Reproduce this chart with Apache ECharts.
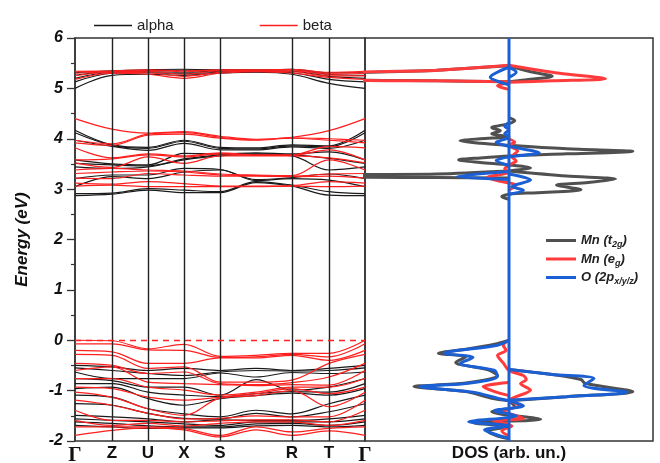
<!DOCTYPE html>
<html>
<head>
<meta charset="utf-8">
<script src="https://cdn.jsdelivr.net/npm/echarts@6/dist/echarts.min.js"></script>
<style>
html,body{margin:0;padding:0;background:#fff;}
#main{width:660px;height:463px;}
</style>
</head>
<body>
<div id="main"></div>
<script>
// high symmetry points along the k path
var kNames = ['Γ', 'Z', 'U', 'X', 'S', 'R', 'T', 'Γ'];
var kTicks = [0, 37, 73, 109, 145, 217, 254, 290];
// sample points: Γ Z U X S (S-R mid) R T Γ
var kPath = [0, 37, 73, 109, 145, 181, 217, 254, 290];

// band energies (eV), one row per k sample, sorted bands in each row
var alphaVal = [
	[-0.50, -0.55, -0.63, -0.76, -0.86, -0.96, -1.09, -1.26, -1.49, -1.56, -1.62, -1.69],
	[-0.53, -0.60, -0.76, -0.80, -0.86, -0.93, -1.13, -1.29, -1.52, -1.59, -1.65, -1.72],
	[-0.60, -0.66, -0.76, -0.93, -1.03, -1.16, -1.36, -1.45, -1.56, -1.62, -1.70, -1.75],
	[-0.56, -0.70, -0.76, -0.93, -1.09, -1.29, -1.46, -1.55, -1.62, -1.66, -1.72, -1.74],
	[-0.60, -0.63, -0.65, -1.09, -1.12, -1.16, -1.52, -1.56, -1.58, -1.69, -1.72, -1.74],
	[-0.56, -0.60, -0.73, -0.78, -1.06, -1.10, -1.39, -1.45, -1.59, -1.62, -1.66, -1.70],
	[-0.60, -0.61, -0.64, -0.99, -1.02, -1.05, -1.46, -1.52, -1.59, -1.62, -1.65, -1.69],
	[-0.56, -0.60, -0.66, -0.93, -1.03, -1.09, -1.26, -1.42, -1.56, -1.62, -1.69, -1.72],
	[-0.50, -0.55, -0.63, -0.76, -0.86, -0.96, -1.09, -1.26, -1.49, -1.56, -1.62, -1.69]
];
var alphaMid = [
	[2.87, 2.91, 3.05, 3.21, 3.44, 3.51, 3.58, 3.97, 4.12, 4.17],
	[2.90, 2.92, 3.25, 3.28, 3.41, 3.48, 3.50, 3.85, 3.87, 3.88],
	[2.98, 3.01, 3.21, 3.28, 3.44, 3.46, 3.48, 3.77, 3.81, 3.83],
	[2.93, 2.98, 3.34, 3.41, 3.58, 3.60, 3.71, 3.91, 3.95, 3.97],
	[2.93, 2.95, 3.38, 3.39, 3.66, 3.68, 3.70, 3.78, 3.81, 3.83],
	[3.13, 3.15, 3.17, 3.19, 3.69, 3.70, 3.72, 3.78, 3.80, 3.82],
	[3.06, 3.08, 3.21, 3.23, 3.66, 3.68, 3.70, 3.84, 3.86, 3.88],
	[2.88, 2.95, 3.18, 3.30, 3.38, 3.61, 3.74, 3.81, 3.84, 3.86],
	[2.87, 2.91, 3.05, 3.21, 3.44, 3.51, 3.58, 3.97, 4.12, 4.17]
];
var alphaUp = [
	[5.00, 5.13, 5.20, 5.26, 5.31],
	[5.26, 5.30, 5.32, 5.34, 5.35],
	[5.28, 5.31, 5.33, 5.35, 5.37],
	[5.26, 5.29, 5.32, 5.36, 5.38],
	[5.30, 5.32, 5.34, 5.36, 5.37],
	[5.32, 5.33, 5.35, 5.36, 5.37],
	[5.28, 5.31, 5.34, 5.37, 5.38],
	[5.10, 5.18, 5.24, 5.28, 5.31],
	[5.00, 5.13, 5.20, 5.26, 5.31]
];
var betaVal = [
	[0.00, -0.07, -0.20, -0.28, -0.46, -0.60, -0.76, -0.93, -1.03, -1.19, -1.39, -1.59, -1.72, -1.89],
	[-0.01, -0.07, -0.23, -0.30, -0.50, -0.53, -0.76, -0.96, -1.13, -1.29, -1.59, -1.69, -1.72, -1.79],
	[-0.17, -0.19, -0.46, -0.56, -0.66, -0.83, -0.93, -1.13, -1.36, -1.45, -1.59, -1.65, -1.72, -1.74],
	[-0.08, -0.20, -0.46, -0.53, -0.63, -0.86, -0.99, -1.19, -1.49, -1.56, -1.62, -1.70, -1.75, -1.78],
	[-0.32, -0.34, -0.35, -0.83, -0.86, -0.88, -1.09, -1.13, -1.15, -1.55, -1.60, -1.65, -1.89, -1.92],
	[-0.30, -0.33, -0.35, -0.83, -0.88, -0.90, -1.03, -1.06, -1.10, -1.50, -1.58, -1.62, -1.72, -1.78],
	[-0.26, -0.28, -0.30, -0.79, -0.84, -0.88, -0.93, -0.96, -1.00, -1.52, -1.58, -1.62, -1.82, -1.89],
	[-0.26, -0.33, -0.40, -0.46, -0.73, -0.89, -0.93, -1.06, -1.32, -1.52, -1.62, -1.69, -1.75, -1.80],
	[0.00, -0.07, -0.20, -0.28, -0.46, -0.60, -0.76, -0.93, -1.03, -1.19, -1.39, -1.59, -1.72, -1.89]
];
var betaMid = [
	[3.06, 3.12, 3.22, 3.31, 3.38, 3.52, 3.58, 3.82, 3.92, 3.97, 4.40],
	[3.08, 3.10, 3.21, 3.34, 3.41, 3.43, 3.60, 3.62, 3.87, 3.90, 4.19],
	[3.05, 3.15, 3.31, 3.36, 3.38, 3.64, 3.68, 3.70, 4.07, 4.09, 4.11],
	[3.05, 3.11, 3.28, 3.34, 3.36, 3.51, 3.64, 3.66, 4.09, 4.12, 4.14],
	[3.05, 3.06, 3.26, 3.28, 3.30, 3.66, 3.70, 3.72, 4.01, 4.03, 4.05],
	[3.05, 3.06, 3.26, 3.27, 3.28, 3.66, 3.67, 3.68, 3.97, 3.98, 3.99],
	[3.06, 3.07, 3.25, 3.26, 3.27, 3.66, 3.67, 3.68, 4.01, 4.02, 4.03],
	[3.05, 3.15, 3.26, 3.30, 3.58, 3.62, 3.78, 3.85, 3.97, 4.00, 4.16],
	[3.06, 3.12, 3.22, 3.31, 3.38, 3.52, 3.58, 3.82, 3.92, 3.97, 4.40]
];
var betaUp = [
	[5.18, 5.25, 5.30, 5.33, 5.34],
	[5.30, 5.32, 5.33, 5.34, 5.35],
	[5.28, 5.31, 5.34, 5.36, 5.37],
	[5.20, 5.24, 5.28, 5.33, 5.35],
	[5.30, 5.32, 5.35, 5.36, 5.37],
	[5.33, 5.34, 5.35, 5.36, 5.37],
	[5.30, 5.33, 5.35, 5.37, 5.38],
	[5.22, 5.25, 5.28, 5.30, 5.32],
	[5.18, 5.25, 5.30, 5.33, 5.34]
];

// projected DOS, pieces of [dos, energy]; each inner list is one stroke
var dosT2g = [
	[[0, 5.45], [-0.5, 5.36], [-1.1, 5.28], [-1.1, 5.18], [-0.5, 5.15], [0, 5.13]],
	[[0, 5.45], [0.15, 5.33], [0.30, 5.24], [0.15, 5.18], [0, 5.13]],
	[[0, 4.42], [0.04, 4.36], [0, 4.30], [-0.12, 4.22], [-0.06, 4.16], [-0.12, 4.10], [0, 4.04], [-0.2, 4.00], [-0.34, 3.96], [-0.2, 3.91], [0, 3.87], [0.4, 3.80], [0.86, 3.75], [0.4, 3.70], [0, 3.66], [-0.2, 3.62], [-0.35, 3.58], [-0.2, 3.53], [0, 3.48], [0.15, 3.42], [0, 3.36]],
	[[0, 3.36], [-0.5, 3.30], [-1.1, 3.28], [-1.1, 3.24], [-0.5, 3.23], [0, 3.22]],
	[[0, 3.36], [0.4, 3.26], [0.74, 3.20], [0.55, 3.13], [0.33, 3.08], [0.5, 2.99], [0.2, 2.93], [0, 2.90], [-0.05, 2.85], [0, 2.80]],
	[[0, 0.0], [-0.1, -0.08], [-0.3, -0.18], [-0.49, -0.26], [-0.3, -0.33], [-0.37, -0.44], [-0.15, -0.58], [-0.08, -0.70], [-0.3, -0.85], [-0.66, -0.92], [-0.3, -1.02], [-0.12, -1.15], [0, -1.2]],
	[[0, -0.58], [0.3, -0.68], [0.5, -0.78], [0.53, -0.86], [0.86, -1.02], [0.4, -1.12], [0, -1.2]],
	[[0, -1.2], [0.04, -1.32], [-0.12, -1.42], [0.22, -1.57], [-0.25, -1.64], [0, -1.72], [-0.15, -1.80], [-0.08, -1.90], [0, -1.95]]
];
var dosEg = [
	[[0, 5.46], [-0.5, 5.36], [-1.1, 5.29], [-1.1, 5.17], [-0.5, 5.15], [0, 5.13]],
	[[0, 5.46], [0.35, 5.30], [0.67, 5.19], [0.3, 5.15], [0, 5.12]],
	[[0, 5.12], [-0.08, 5.05], [0, 4.98]],
	[[0, 4.00], [0.04, 3.93], [0, 3.87], [0.06, 3.76], [0.02, 3.64], [0.05, 3.56], [0, 3.48], [-0.03, 3.40], [0, 3.34], [-0.15, 3.23], [-0.05, 3.15], [0.05, 3.08], [0, 2.98]],
	[[0, 0.0], [-0.04, -0.10], [-0.02, -0.20], [-0.08, -0.30], [-0.04, -0.45], [0, -0.60], [0.10, -0.70], [0.12, -0.78], [0.08, -0.86], [0.15, -0.99], [0.05, -1.12], [0, -1.18]],
	[[0, -0.84], [-0.18, -0.92], [-0.1, -1.02], [0, -1.10]],
	[[0, -1.20], [0.07, -1.30], [-0.04, -1.40], [0.10, -1.55], [-0.11, -1.60], [0.02, -1.70], [-0.05, -1.80], [0, -1.90]]
];
var dosO2p = [
	[[0, 6], [0, -2]],
	[[0, 5.42], [-0.13, 5.22], [0, 5.07]],
	[[0, 5.42], [0.05, 5.32], [0, 5.22]],
	[[0, 4.32], [-0.03, 4.25], [0, 4.18], [-0.03, 4.10], [0, 4.03], [-0.09, 3.93], [0, 3.85], [0.21, 3.72], [0, 3.64], [-0.09, 3.57], [0, 3.47]],
	[[0, 3.35], [-0.36, 3.25], [0, 3.19]],
	[[0, 3.30], [0.15, 3.18], [0.02, 3.05], [0.1, 2.98], [0, 2.90]],
	[[0, 0.0], [-0.08, -0.10], [-0.45, -0.26], [-0.25, -0.34], [-0.34, -0.46], [-0.1, -0.60], [-0.08, -0.72], [-0.3, -0.86], [-0.62, -0.92], [-0.25, -1.03], [-0.08, -1.15], [0, -1.2]],
	[[0, -0.58], [0.3, -0.68], [0.59, -0.76], [0.52, -0.90], [0.82, -1.03], [0.4, -1.12], [0, -1.19]],
	[[0, -1.2], [0.1, -1.30], [-0.1, -1.40], [0.05, -1.50], [-0.28, -1.62], [0, -1.70], [-0.17, -1.78], [-0.06, -1.90], [0, -1.95]]
];

var chart = echarts.init(document.getElementById('main'));

function bandSeries(name, color, groups, z){
	var out = [];
	for(var g = 0; g < groups.length; g++){
		var rows = groups[g];
		for(var j = 0; j < rows[0].length; j++){
			var pts = [];
			for(var i = 0; i < kPath.length; i++){
				pts.push([kPath[i], rows[i][j]]);
			}
			out.push({
				name: name, type: 'line', xAxisIndex: 0, yAxisIndex: 0,
				data: pts, smooth: 0.35, symbol: 'none', silent: true, z: z,
				lineStyle: {color: color, width: 1.2}, itemStyle: {color: color}
			});
		}
	}
	return out;
}

function pieces(list){
	var out = [];
	for(var i = 0; i < list.length; i++){
		if(i > 0) out.push(['-', '-']);
		out = out.concat(list[i]);
	}
	return out;
}

function dosSeries(name, color, list){
	return {
		name: name, type: 'line', xAxisIndex: 1, yAxisIndex: 1,
		data: pieces(list), smooth: 0.3, symbol: 'none', silent: true,
		connectNulls: false, z: 5,
		lineStyle: {color: color, width: 3}, itemStyle: {color: color}
	};
}

var series = [];
series = series.concat(bandSeries('alpha', '#1a1a1a', [alphaVal, alphaMid, alphaUp], 2));
series = series.concat(bandSeries('beta', '#ff1f1f', [betaVal, betaMid, betaUp], 3));
// k-point vertical lines and Fermi level
series[0].markLine = {
	silent: true, symbol: ['none', 'none'], label: {show: false}, animation: false,
	lineStyle: {color: '#222', width: 1.4, type: 'solid'},
	data: kTicks.slice(1, 7).map(function(v){ return {xAxis: v}; })
};
series[series.length - 1].markLine = {
	silent: true, symbol: ['none', 'none'], label: {show: false}, animation: false,
	lineStyle: {color: '#ff1f1f', width: 1.3, type: [6, 5]},
	data: [{yAxis: 0}]
};
series.push(dosSeries('Mn (t2g)', '#505050', dosT2g));
series.push(dosSeries('Mn (eg)', '#ff3b3b', dosEg));
series.push(dosSeries('O (2px/y/z)', '#1a5fd4', dosO2p));

var subNames = {
	'Mn (t2g)': 'Mn (t{s|2g})',
	'Mn (eg)': 'Mn (e{s|g})',
	'O (2px/y/z)': 'O (2p{s|x/y/z})'
};

var option = {
	backgroundColor: '#fff',
	animation: false,
	legend: [
		{
			data: ['alpha', 'beta'], left: 89, top: 13, icon: 'rect', itemWidth: 38, itemHeight: 1.5, itemGap: 86,
			textStyle: {fontFamily: 'Liberation Sans', fontSize: 15, color: '#222'}
		},
		{
			data: ['Mn (t2g)', 'Mn (eg)', 'O (2px/y/z)'], orient: 'vertical', left: 541, top: 229,
			icon: 'rect', itemWidth: 30, itemHeight: 3, itemGap: 3,
			formatter: function(n){ return subNames[n]; },
			textStyle: {
				fontFamily: 'Liberation Sans', fontSize: 13, fontWeight: 'bold', fontStyle: 'italic', color: '#222',
				rich: {s: {fontSize: 9, fontWeight: 'bold', fontStyle: 'italic', color: '#222', padding: [9, 0, 0, 0]}}
			}
		}
	],
	grid: [
		{left: 75, top: 38, width: 290, height: 403, show: true, borderColor: '#333', borderWidth: 1.5, outerBoundsMode: 'none'},
		{left: 365, top: 38, width: 288, height: 403, show: true, borderColor: '#333', borderWidth: 1.5, outerBoundsMode: 'none'}
	],
	xAxis: [
		{
			type: 'value', gridIndex: 0, min: 0, max: 290,
			axisLine: {show: false}, axisTick: {show: false}, splitLine: {show: false},
			axisLabel: {
				customValues: kTicks, margin: 4, color: '#111',
				fontFamily: 'Liberation Sans', fontSize: 17, fontWeight: 'bold',
				formatter: function(v){
					var i = kTicks.indexOf(v);
					var n = kNames[i];
					return n === 'Γ' ? '{g|Γ}' : n;
				},
				rich: {g: {fontFamily: 'Liberation Serif', fontSize: 21, color: '#111'}}
			}
		},
		{
			type: 'value', gridIndex: 1, min: -1, max: 1,
			axisLine: {show: false}, axisTick: {show: false}, axisLabel: {show: false}, splitLine: {show: false},
			name: 'DOS (arb. un.)', nameLocation: 'middle', nameGap: 4,
			nameTextStyle: {fontFamily: 'Liberation Sans', fontSize: 17, fontWeight: 'bold', color: '#111', verticalAlign: 'top'}
		}
	],
	yAxis: [
		{
			type: 'value', gridIndex: 0, min: -2, max: 6, interval: 1,
			axisLine: {show: true, lineStyle: {color: '#333', width: 1.5}},
			axisTick: {show: true, length: 8, lineStyle: {color: '#333', width: 1.3}},
			minorTick: {show: true, splitNumber: 2, length: 4, lineStyle: {color: '#333', width: 1.2}},
			splitLine: {show: false},
			axisLabel: {margin: 12, color: '#111', fontFamily: 'Liberation Sans', fontSize: 16, fontWeight: 'bold', fontStyle: 'italic'},
			name: 'Energy (eV)', nameLocation: 'middle', nameGap: 44,
			nameTextStyle: {fontFamily: 'Liberation Sans', fontSize: 17, fontWeight: 'bold', fontStyle: 'italic', color: '#111'}
		},
		{type: 'value', gridIndex: 1, min: -2, max: 6, show: false}
	],
	series: series
};
chart.setOption(option);
</script>
</body>
</html>
